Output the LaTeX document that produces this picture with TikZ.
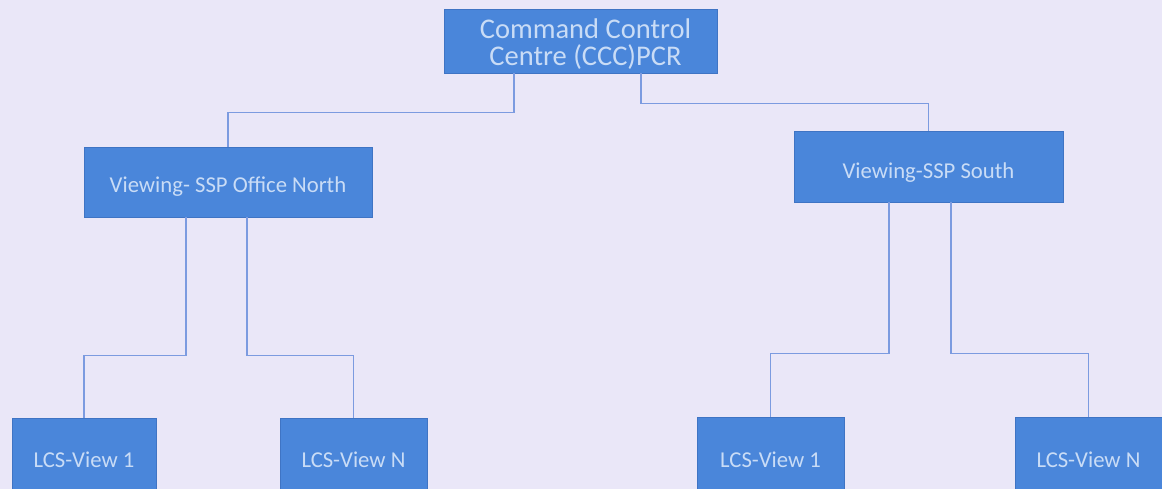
\documentclass[tikz,border=0pt]{standalone}
\usepackage{fontspec}
\setmainfont{Carlito}
\definecolor{bg}{HTML}{EAE7F8}
\definecolor{boxfill}{HTML}{4A86DA}
\definecolor{boxedge}{HTML}{3F74C4}
\definecolor{boxtext}{HTML}{C9DCF6}
\definecolor{wire}{HTML}{7C9BE0}
\tikzset{
  orgbox/.style={rectangle, fill=boxfill, draw=boxedge, line width=0.8pt, inner sep=0pt},
  boxlabel/.style={text=boxtext, inner sep=0pt, align=center},
  bigtext/.style={font=\fontsize{28.5}{27.5}\selectfont},
  smalltext/.style={font=\fontsize{22.7}{26}\selectfont},
  wireline/.style={draw=wire, line width=1.1pt}
}
\begin{document}
\begin{tikzpicture}[x=1pt,y=-1pt]
\useasboundingbox (0,0) rectangle (1162,489);
\fill[bg] (0,0) rectangle (1162,489);
\clip (0,0) rectangle (1162,489);
% boxes
\node[orgbox, minimum width=273pt, minimum height=64pt,
  label={[boxlabel, bigtext, xshift=5pt, yshift=-3pt]center:{Command Control\\Centre (CCC)PCR}}] (ccc) at (580.5,41) {};
\node[orgbox, minimum width=288pt, minimum height=70pt,
  label={[boxlabel, smalltext, yshift=-5pt]center:{Viewing- SSP Office North}}] (north) at (228,182) {};
\node[orgbox, minimum width=269pt, minimum height=71pt,
  label={[boxlabel, smalltext, yshift=-6pt]center:{Viewing-SSP South}}] (south) at (928.5,166.5) {};
\node[orgbox, minimum width=144pt, minimum height=84pt,
  label={[boxlabel, smalltext]center:{LCS-View 1}}] (l1) at (84,460) {};
\node[orgbox, minimum width=147pt, minimum height=84pt,
  label={[boxlabel, smalltext]center:{LCS-View N}}] (lN) at (353.5,460) {};
\node[orgbox, minimum width=147pt, minimum height=86pt,
  label={[boxlabel, smalltext]center:{LCS-View 1}}] (r1) at (770.5,460) {};
\node[orgbox, minimum width=147pt, minimum height=86pt,
  label={[boxlabel, smalltext]center:{LCS-View N}}] (rN) at (1088.5,460) {};
% connectors
\draw[wireline] ([xshift=-66.5pt]ccc.south) -- ++(0,39) -| (north.north);
\draw[wireline] ([xshift=60.5pt]ccc.south) -- ++(0,30) -| (south.north);
\draw[wireline] ([xshift=-42pt]north.south) -- ++(0,138) -| (l1.north);
\draw[wireline] ([xshift=19pt]north.south) -- ++(0,138) -| (lN.north);
\draw[wireline] ([xshift=-39.5pt]south.south) -- ++(0,151) -| (r1.north);
\draw[wireline] ([xshift=22.5pt]south.south) -- ++(0,151) -| (rN.north);
\end{tikzpicture}
\end{document}
